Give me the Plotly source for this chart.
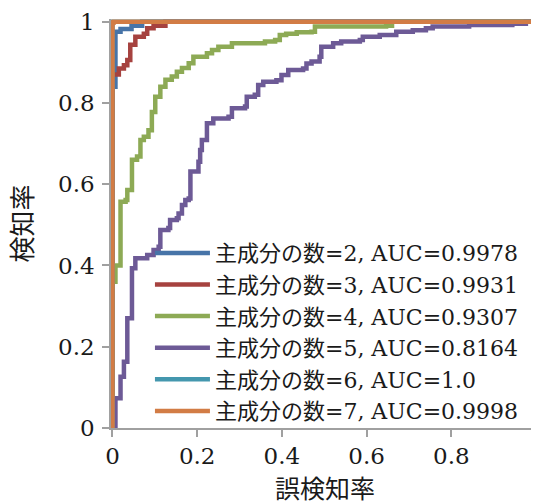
import plotly.graph_objects as go

# ROC data (false positive rate, true positive rate)
names = [
    "主成分の数=2, AUC=0.9978",
    "主成分の数=3, AUC=0.9931",
    "主成分の数=4, AUC=0.9307",
    "主成分の数=5, AUC=0.8164",
    "主成分の数=6, AUC=1.0",
    "主成分の数=7, AUC=0.9998",
]

fpr_2 = [0, 0, 0.007, 0.019, 0.045, 0.07, 1]
tpr_2 = [0, 0.84, 0.975, 0.982, 0.99, 1.0, 1]

fpr_3 = [0, 0, 0.015, 0.027, 0.035, 0.042, 0.054, 0.074, 0.082, 0.097, 0.125, 1]
tpr_3 = [0, 0.87, 0.885, 0.893, 0.906, 0.943, 0.963, 0.97, 0.984, 0.99, 1.0, 1]

fpr_4 = [0, 0, 0.007, 0.019, 0.031, 0.035, 0.046, 0.058, 0.066, 0.074, 0.085,
         0.093, 0.101, 0.113, 0.125, 0.14, 0.152, 0.164, 0.18, 0.191, 0.223,
         0.235, 0.25, 0.282, 0.36, 0.384, 0.395, 0.41, 0.435, 0.47, 0.478,
         0.646, 0.66, 1]
tpr_4 = [0, 0.36, 0.40, 0.557, 0.561, 0.586, 0.66, 0.668, 0.709, 0.717, 0.733,
         0.778, 0.815, 0.84, 0.857, 0.865, 0.877, 0.886, 0.898, 0.914, 0.922,
         0.93, 0.938, 0.947, 0.951, 0.955, 0.967, 0.97, 0.974, 0.975, 0.988,
         0.99, 1.0, 1]

fpr_5 = [0, 0.007, 0.019, 0.027, 0.035, 0.046, 0.054, 0.082, 0.097, 0.109,
         0.113, 0.132, 0.136, 0.152, 0.156, 0.164, 0.172, 0.18, 0.184, 0.203,
         0.207, 0.211, 0.223, 0.238, 0.274, 0.282, 0.313, 0.317, 0.336, 0.344,
         0.356, 0.387, 0.399, 0.415, 0.45, 0.458, 0.47, 0.489, 0.493, 0.521,
         0.54, 0.584, 0.591, 0.631, 0.67, 0.709, 0.74, 0.756, 0.842, 0.944,
         0.976, 1]
tpr_5 = [0, 0.073, 0.126, 0.163, 0.27, 0.393, 0.418, 0.426, 0.438, 0.446,
         0.487, 0.492, 0.512, 0.516, 0.528, 0.549, 0.561, 0.565, 0.631, 0.655,
         0.684, 0.709, 0.75, 0.762, 0.766, 0.787, 0.791, 0.815, 0.82, 0.844,
         0.852, 0.856, 0.869, 0.881, 0.885, 0.897, 0.902, 0.914, 0.938, 0.947,
         0.951, 0.955, 0.963, 0.967, 0.975, 0.979, 0.984, 0.988, 0.992, 0.995,
         1.0, 1]

fpr_6 = [0, 0, 1]
tpr_6 = [0, 1, 1]

fpr_7 = [0, 0, 0.003, 1]
tpr_7 = [0, 0.998, 1, 1]

tick_vals = [0, 0.2, 0.4, 0.6, 0.8, 1]
tick_text = ["0", "0.2", "0.4", "0.6", "0.8", "1"]

colors = ["#4774A8", "#A6423F", "#8DAA55", "#6D5A96", "#4497AE", "#D27C45"]

xs = [fpr_2, fpr_3, fpr_4, fpr_5, fpr_6, fpr_7]
ys = [tpr_2, tpr_3, tpr_4, tpr_5, tpr_6, tpr_7]

FONT = "DejaVu Serif, Noto Sans CJK JP, serif"

fig = go.Figure()
for name, x, y, c in zip(names, xs, ys, colors):
    fig.add_trace(go.Scatter(
        x=x, y=y, name=name, mode="lines",
        line=dict(color=c, width=4.5, shape="hv"),
    ))

axis_common = dict(
    showgrid=False, zeroline=False, automargin=False,
    showline=True, linecolor="#A0A0A0", linewidth=1.5,
    ticks="outside", ticklen=7, tickwidth=1.5, tickcolor="#A0A0A0",
    tickvals=tick_vals, ticktext=tick_text, ticklabeloverflow="allow",
    tickfont=dict(family=FONT, size=23, color="#1a1a1a"),
)

# the page body adds an 8px offset, so the figure is 8px smaller and margins shifted
fig.update_layout(
    width=531, height=496,
    margin=dict(l=103, r=0, t=11, b=76),
    paper_bgcolor="white", plot_bgcolor="white",
    font=dict(family=FONT, color="#1a1a1a"),
    xaxis=dict(range=[-0.0035, 1.007],
               title=dict(text="誤検知率", font=dict(family=FONT, size=25), standoff=19),
               **axis_common),
    yaxis=dict(range=[0, 1.0066], ticklabelstandoff=3,
               title=dict(text="検知率", font=dict(family=FONT, size=26), standoff=24),
               **axis_common),
    legend=dict(
        x=0.091, y=0.479, xanchor="left", yanchor="top",
        bgcolor="rgba(0,0,0,0)", borderwidth=0,
        font=dict(family=FONT, size=22, color="#1a1a1a"),
        itemwidth=55, tracegroupgap=0,
    ),
    showlegend=True,
)

fig.write_html("out.html")
